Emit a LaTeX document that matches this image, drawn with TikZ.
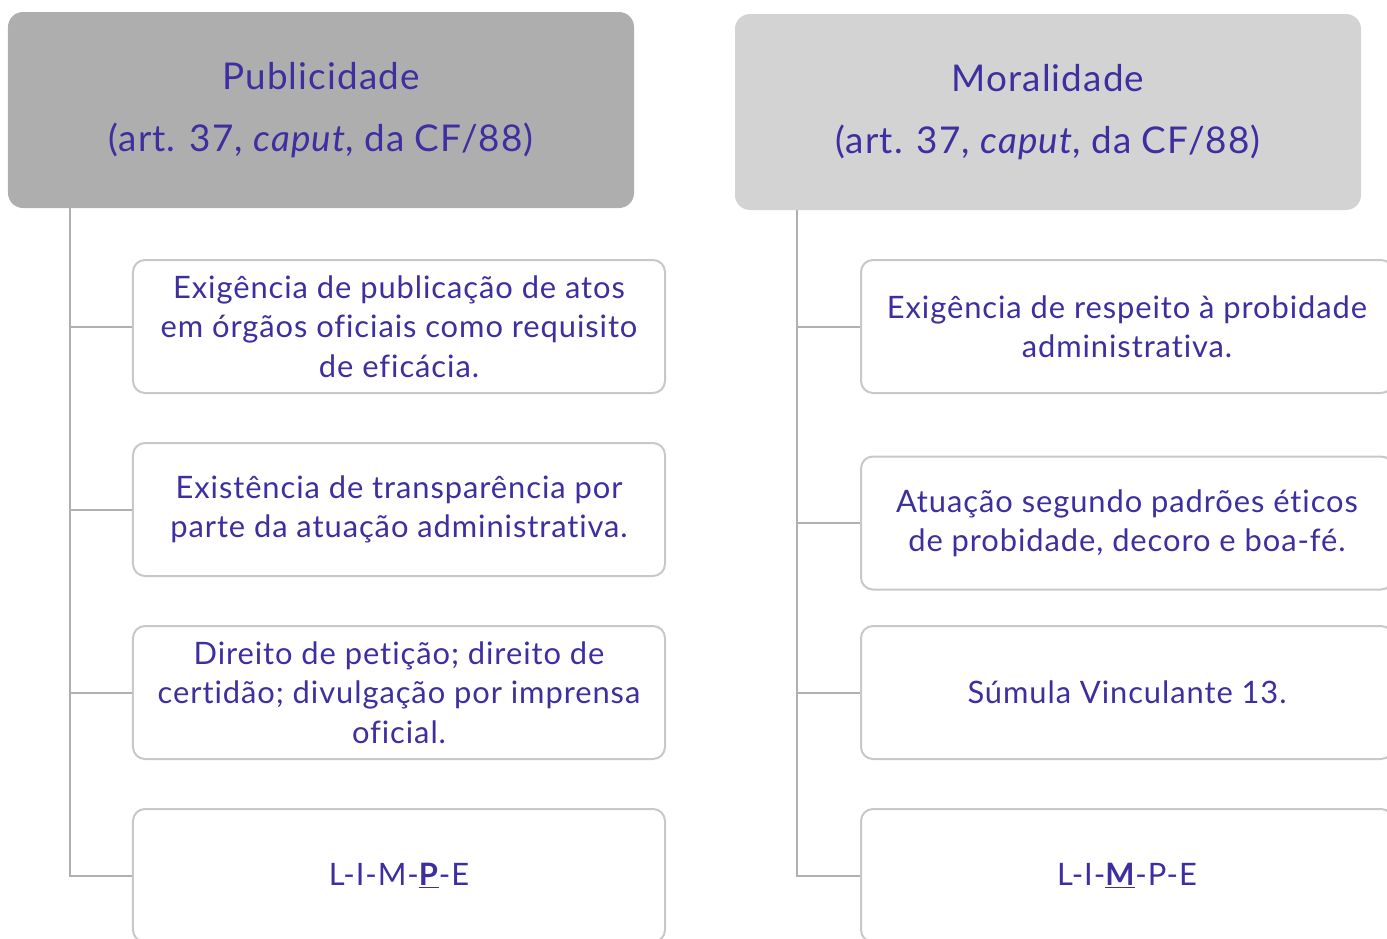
\documentclass[tikz,border=0pt]{standalone}
\usepackage{fontspec}
\setmainfont{Lato}[Ligatures={NoCommon,TeX}, LetterSpace=3]
\usepackage{tikz}
\usetikzlibrary{positioning}
\definecolor{txtblue}{RGB}{62,47,160}
\definecolor{headdark}{RGB}{174,174,174}
\definecolor{headlight}{RGB}{211,211,211}
\definecolor{boxline}{RGB}{200,200,200}
\definecolor{trunkline}{RGB}{176,176,176}

\tikzset{
  head/.style={rounded corners=15bp, minimum width=626bp, minimum height=196bp,
    align=center, text=txtblue, font=\fontsize{37}{63}\selectfont},
  item/.style={draw=boxline, line width=2bp, rounded corners=12bp, fill=white,
    minimum width=532bp, minimum height=133bp, align=center,
    text=txtblue, font=\fontsize{31}{39.5}\selectfont},
  conn/.style={draw=trunkline, line width=2bp}
}

\begin{document}
\begin{tikzpicture}[x=1bp, y=-1bp]
        \useasboundingbox (0,0) rectangle (1387,938);
        \clip (0,0) rectangle (1387,938);
        % headers
        \node[head, fill=headdark] (pub) at (321,110) {Publicidade\\(art. 37, \textit{caput}, da CF/88)};
        \node[head, fill=headlight] (mor) at (1048,112) {Moralidade\\(art. 37, \textit{caput}, da CF/88)};
        % left column
        \node[item] (p1) at (399,326.5) {Exigência de publicação de atos\\em órgãos oficiais como requisito\\de eficácia.};
        \node[item] (p2) at (399,509.5) {Existência de transparência por\\parte da atuação administrativa.};
        \node[item] (p3) at (399,692.5) {Direito de petição; direito de\\certidão; divulgação por imprensa\\oficial.};
        \node[item] (p4) at (399,875.5) {L-I-M-\underline{\textbf{P}}-E};
        % right column
        \node[item] (m1) at (1127,326.5) {Exigência de respeito à probidade\\administrativa.};
        \node[item] (m2) at (1127,523) {Atuação segundo padrões éticos\\de probidade, decoro e boa-fé.};
        \node[item] (m3) at (1127,692.5) {Súmula Vinculante 13.};
        \node[item] (m4) at (1127,875.5) {L-I-\underline{\textbf{M}}-P-E};
        % trunks
        \coordinate (ptrunk) at (70,208);
        \coordinate (mtrunk) at (797,210);
        \draw[conn] (ptrunk) |- (p4.west);
        \draw[conn] (mtrunk) |- (m4.west);
        \foreach \b in {p1,p2,p3} \draw[conn] (ptrunk |- \b.west) -- (\b.west);
        \foreach \b in {m1,m2,m3} \draw[conn] (mtrunk |- \b.west) -- (\b.west);
\end{tikzpicture}
\end{document}
